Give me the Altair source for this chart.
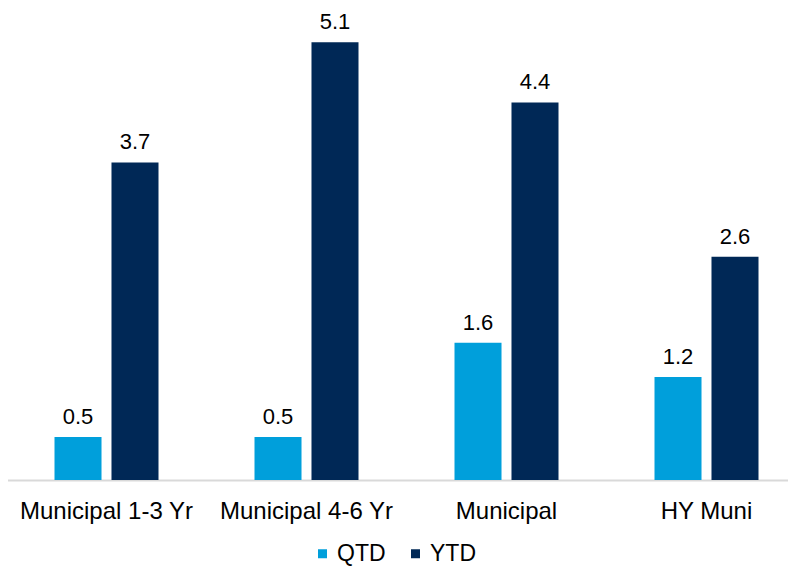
import altair as alt
import pandas as pd

categories = ["Municipal 1-3 Yr", "Municipal 4-6 Yr", "Municipal", "HY Muni"]
series = ["QTD", "YTD"]
qtd = [0.5, 0.5, 1.6, 1.2]
ytd = [3.7, 5.1, 4.4, 2.6]
colors = ["#009FDB", "#002856"]

rows = []
for c, q, y in zip(categories, qtd, ytd):
    rows.append({"cat": c, "series": "QTD", "value": q})
    rows.append({"cat": c, "series": "YTD", "value": y})
df = pd.DataFrame(rows)

FONT = "Liberation Sans"

base = alt.Chart(df).encode(
    x=alt.X(
        "cat:N",
        sort=categories,
        scale=alt.Scale(paddingInner=0.48, paddingOuter=0.24),
        axis=alt.Axis(
            title=None,
            labelAngle=0,
            ticks=False,
            tickSize=0,
            labelPadding=38,
            labelBaseline="alphabetic",
            domainColor="#d9d9d9",
            domainWidth=2,
            labelFontSize=24,
            labelFont=FONT,
            labelColor="#000000",
            grid=False,
        ),
    ),
    xOffset=alt.XOffset("series:N", sort=series, scale=alt.Scale(paddingInner=0.175, paddingOuter=0)),
    y=alt.Y("value:Q", scale=alt.Scale(domain=[0, 5.5]), axis=None),
)

bars = base.mark_bar().encode(
    color=alt.Color(
        "series:N",
        sort=series,
        scale=alt.Scale(domain=series, range=colors),
        legend=alt.Legend(
            title=None,
            orient="none",
            legendX=304.5,
            legendY=534,
            direction="horizontal",
            symbolType="square",
            symbolSize=81,
            symbolStrokeWidth=0,
            labelFontSize=23,
            labelFont=FONT,
            labelColor="#000000",
            labelOffset=3,
            columnPadding=18,
            padding=0,
        ),
    )
)

labels = base.mark_text(dy=-13, baseline="alphabetic", fontSize=22, font=FONT, color="#000000").encode(
    text=alt.Text("value:Q", format=".1f")
)

chart = (
    alt.layer(bars, labels)
    .properties(
        width=800,
        height=472,
        autosize=alt.AutoSizeParams(type="none"),
        padding={"left": -1.5, "top": 0, "right": -18.5, "bottom": 86},
    )
    .configure_view(stroke=None)
)

chart.save("out.html", embed_options={"renderer": "svg", "actions": False})
